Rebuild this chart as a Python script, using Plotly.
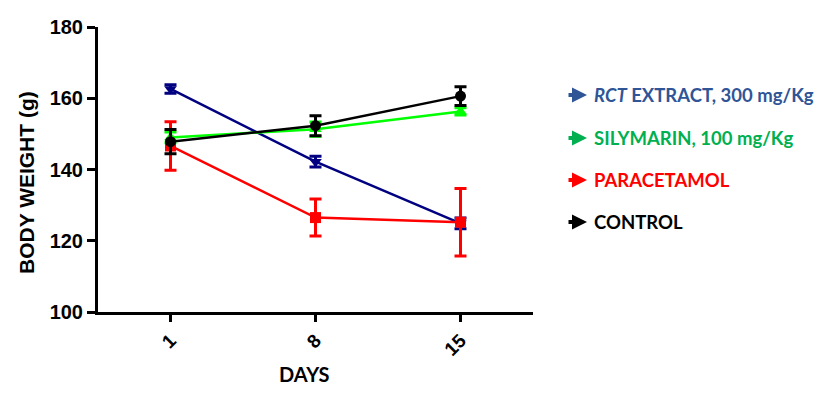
import plotly.graph_objects as go

days = ["1", "8", "15"]
series_names = ["<i>RCT</i> EXTRACT, 300 mg/Kg", "SILYMARIN, 100 mg/Kg", "PARACETAMOL", "CONTROL"]
rct_vals = [162.6, 142.2, 124.9]
rct_err = [1.2, 1.5, 1.5]
sily_vals = [149.0, 151.3, 156.3]
sily_err = [1.5, 2.0, 1.0]
para_vals = [146.6, 126.5, 125.2]
para_err = [6.8, 5.2, 9.5]
ctrl_vals = [147.8, 152.3, 160.6]
ctrl_err = [3.4, 2.8, 2.6]

line_colors = ["#000080", "#00FF00", "#FF0000", "#000000"]
legend_colors = ["#2F5597", "#00B050", "#FF0000", "#000000"]
symbols = ["triangle-down", "triangle-up", "square", "circle"]
y_ticks = [100, 120, 140, 160, 180]
x_title = "DAYS"
y_title = "BODY WEIGHT (g)"

fig = go.Figure()
all_vals = [rct_vals, sily_vals, para_vals, ctrl_vals]
all_errs = [rct_err, sily_err, para_err, ctrl_err]
for vals, errs, col, sym, name in zip(all_vals, all_errs, line_colors, symbols, series_names):
    fig.add_trace(go.Scatter(
        x=days, y=vals, name=name, mode="lines+markers",
        line=dict(color=col, width=2.5),
        marker=dict(color=col, symbol=sym, size=11),
        error_y=dict(type="data", array=errs, visible=True, color=col, thickness=3, width=6),
        showlegend=False,
    ))

# page has an 8px body margin, so the figure is offset by 8px
OFF = 8
W, H = 827 - OFF, 393 - OFF
L, T = 98 - OFF, 27 - OFF
R = W - (533 - OFF)
B = H - (312 - OFF)
pw = W - L - R
ph = H - T - B

def px_x(page_x):
    return (page_x - OFF - L) / pw

def px_y(page_y):
    return (H - B - (page_y - OFF)) / ph

leg_y = [95, 138, 180, 222]
for name, col, yy in zip(series_names, legend_colors, leg_y):
    fig.add_annotation(xref="paper", yref="paper",
                       x=px_x(587), y=px_y(yy), ax=-20, ay=0,
                       text="", showarrow=True, arrowhead=2, arrowsize=0.75,
                       arrowwidth=4, arrowcolor=col)
    fig.add_annotation(xref="paper", yref="paper",
                       x=px_x(592), y=px_y(yy),
                       text="<b>" + name + "</b>", showarrow=False, xanchor="left", yanchor="middle",
                       font=dict(family="Lato", size=18.5, color=col))

# axis titles
fig.add_annotation(xref="paper", yref="paper", x=px_x(304), y=px_y(373.5),
                   text="<b>" + x_title + "</b>", showarrow=False,
                   xanchor="center", yanchor="middle",
                   font=dict(family="Lato", size=20, color="black"))
fig.add_annotation(xref="paper", yref="paper", x=px_x(27), y=px_y(183),
                   text="<b>" + y_title + "</b>", showarrow=False, textangle=-90,
                   xanchor="center", yanchor="middle",
                   font=dict(family="Liberation Sans", size=21, color="black"))

fig.update_layout(
    width=W, height=H,
    margin=dict(l=L, r=R, t=T, b=B, autoexpand=False),
    plot_bgcolor="white", paper_bgcolor="white",
    xaxis=dict(
        type="category", range=[-0.5, 2.5], automargin=False,
        showline=True, linecolor="black", linewidth=3,
        ticks="outside", ticklen=7, tickwidth=3, tickcolor="black",
        tickangle=-45, showgrid=False, zeroline=False,
        tickfont=dict(family="Liberation Sans", size=19, color="black", weight="bold"),
    ),
    yaxis=dict(
        range=[100, 180], tickvals=y_ticks, automargin=False,
        showline=True, linecolor="black", linewidth=3,
        ticks="outside", ticklen=8, tickwidth=3, tickcolor="black",
        showgrid=False, zeroline=False,
        tickfont=dict(family="Liberation Sans", size=20, color="black", weight="bold"),
    ),
)

fig.write_html("out.html")
